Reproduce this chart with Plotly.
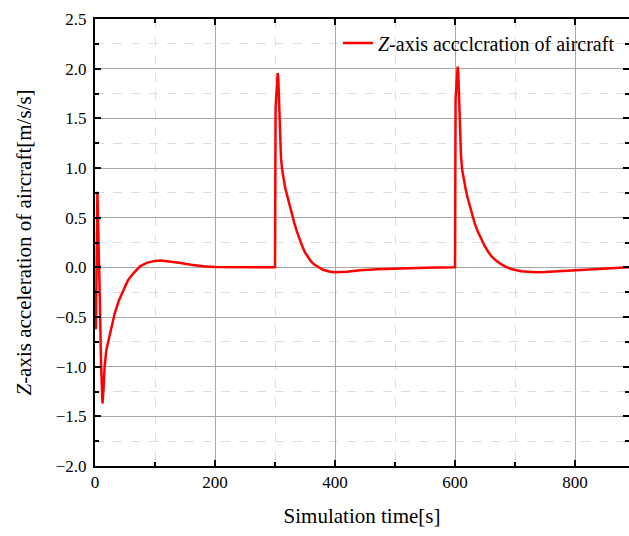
import plotly.graph_objects as go

# Simulation time [s]
time_s = [0, 1.5, 4, 6, 8, 10, 11.5, 12.5, 14, 16, 19, 25, 33, 40, 47, 55, 64, 75, 86, 100,
          110, 125, 140, 160, 180, 200, 250, 299.5,
          300, 301, 303, 304.5, 305.5, 306.5, 307.5, 308.5, 310, 312, 314, 317, 320, 324, 328,
          332, 336, 340, 345, 350, 355, 360, 366, 372, 380, 390, 400, 420, 442, 470, 508, 550,
          599.5,
          600, 601, 603, 604.5, 605.5, 606.5, 607.5, 608.5, 610, 612, 615, 618, 621, 625, 629,
          633, 638, 643, 649, 655, 661, 668, 676, 685, 695, 710, 725, 736, 750, 770, 790, 820,
          850, 875, 890]
# Z-axis acceleration [m/s/s]
z_accel = [-0.60, -0.62, 0.76, 0.30, -0.30, -0.95, -1.30, -1.37, -1.25, -1.00, -0.83, -0.67,
           -0.46, -0.33, -0.23, -0.13, -0.06, 0.01, 0.045, 0.065,
           0.068, 0.06, 0.045, 0.025, 0.01, 0.003, 0.0, 0.0,
           0.0, 1.60, 1.90, 1.955, 1.90, 1.70, 1.45, 1.25, 1.10, 0.98, 0.90, 0.80, 0.73, 0.63,
           0.54, 0.45, 0.37, 0.30, 0.22, 0.15, 0.10, 0.06, 0.025, 0.0, -0.025, -0.042, -0.05,
           -0.045, -0.03, -0.02, -0.01, -0.003, 0.0,
           0.0, 1.70, 1.95, 2.02, 1.95, 1.75, 1.50, 1.30, 1.12, 0.98, 0.86, 0.78, 0.70, 0.61,
           0.52, 0.44, 0.36, 0.29, 0.22, 0.16, 0.11, 0.07, 0.035, 0.005, -0.02, -0.04, -0.048,
           -0.05, -0.048, -0.04, -0.03, -0.018, -0.008, -0.003, 0.0]

series_name = "<i>Z</i>-axis accclcration of aircraft"
x_title = "Simulation time[s]"
y_title = "<i>Z</i>-axis acceleration of aircraft[m/s/s]"

FONT = "Liberation Serif"

fig = go.Figure()
fig.add_trace(go.Scatter(x=time_s, y=z_accel, mode="lines", name=series_name,
                         line=dict(color="#ff0000", width=2.5)))

axis_common = dict(
    showline=True, linecolor="black", linewidth=2, mirror="allticks",
    ticks="inside", ticklen=6, tickwidth=2, tickcolor="black",
    showgrid=True, gridcolor="#a9a9a9", gridwidth=1,
    zeroline=False, automargin=False,
)

fig.update_xaxes(
    range=[0, 890], dtick=200, tick0=0,
    tickfont=dict(family=FONT, size=17, color="black"),
    minor=dict(dtick=100, ticks="inside", ticklen=4, tickcolor="black", tickwidth=1.5,
               showgrid=True, gridcolor="#dedede", griddash="dash", gridwidth=1),
    title=dict(text=x_title, font=dict(family=FONT, size=21, color="black"), standoff=17),
    **axis_common)
fig.update_yaxes(
    range=[-2.0, 2.5], dtick=0.5, tick0=0, tickformat=".1f", ticklabelstandoff=3,
    tickfont=dict(family=FONT, size=17, color="black"),
    minor=dict(dtick=0.25, ticks="inside", ticklen=4, tickcolor="black", tickwidth=1.5,
               showgrid=True, gridcolor="#dedede", griddash="dash", gridwidth=1),
    title=dict(text=y_title, font=dict(family=FONT, size=21, color="black"), standoff=18),
    **axis_common)

fig.update_layout(
    width=629, height=536,
    font=dict(family=FONT, size=17, color="black"),
    margin=dict(l=95, r=0, t=19, b=70, autoexpand=False),
    paper_bgcolor="white", plot_bgcolor="white",
    showlegend=True,
    legend=dict(x=0.455, y=0.99, xanchor="left", yanchor="top",
                bgcolor="rgba(0,0,0,0)", borderwidth=0,
                font=dict(family=FONT, size=20, color="black")),
)

fig.write_html("out.html", config={"displayModeBar": False},
               post_script="document.body.style.margin='0';document.body.style.padding='0';")
